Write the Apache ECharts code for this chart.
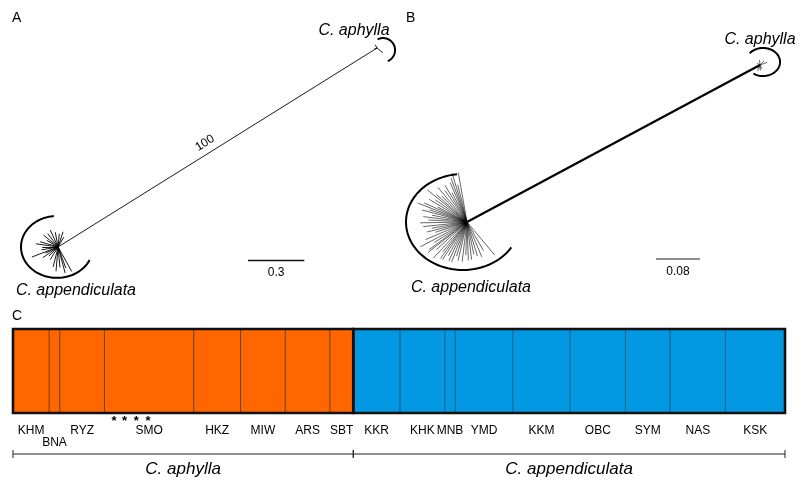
<!DOCTYPE html>
<html>
<head>
<meta charset="utf-8">
<script src="https://cdn.jsdelivr.net/npm/echarts@6/dist/echarts.min.js"></script>
<style>
  html, body { margin: 0; padding: 0; background: #fff; }
  #chart { width: 800px; height: 482px; }
</style>
</head>
<body>
<div id="chart"></div>
<script>
// ---------- Panel A: network, tree units (substitutions/site) ----------
const hubA = [0.31, 0.283];          // C. appendiculata centre
const tipA = [2.011, 1.344];         // C. aphylla centre
// [angle deg, branch length]
const fanA = [
  [60, 0.06], [72, 0.085], [85, 0.07], [101, 0.08], [115, 0.1], [128, 0.09],
  [141, 0.1], [150, 0.07], [164, 0.1], [172, 0.12], [180, 0.085], [190, 0.09],
  [201, 0.15], [206, 0.075], [215, 0.1], [225, 0.07], [238, 0.08], [256, 0.11],
  [265, 0.13], [275, 0.11], [285, 0.144], [290, 0.12], [299, 0.15]
];
const tipsA = [[-40, 0.04], [120, 0.02], [200, 0.015]];
const bootstrapA = '100';
const scaleA = 0.3;

// ---------- Panel B ----------
const hubB = [0.1218, 0.1418];
const tipB = [0.6545, 0.4273];
const fanB = [
  [100, 0.091], [104, 0.07], [107, 0.093], [110, 0.085], [113, 0.078], [117, 0.06],
  [121, 0.078], [125, 0.07], [130, 0.082], [134, 0.065], [138, 0.075], [141, 0.093],
  [145, 0.07], [149, 0.08], [153, 0.06], [156, 0.085], [159, 0.096], [162, 0.072],
  [165, 0.085], [169, 0.065], [173, 0.08], [177, 0.07], [181, 0.085], [186, 0.08],
  [190, 0.065], [194, 0.075], [198, 0.06], [203, 0.082], [208, 0.096], [212, 0.07],
  [216, 0.085], [218, 0.09], [222, 0.075], [227, 0.09], [231, 0.07], [234, 0.082],
  [237, 0.082], [241, 0.07], [245, 0.078], [249, 0.078], [253, 0.065], [257, 0.072],
  [263, 0.073], [268, 0.06], [272, 0.07], [277, 0.069], [282, 0.06], [287, 0.065],
  [293, 0.069], [300, 0.06], [310, 0.078]
];
const tipsB = [[20, 0.014], [45, 0.01], [95, 0.009], [150, 0.006], [230, 0.008], [250, 0.012], [275, 0.01], [300, 0.008]];
const scaleB = 0.08;

// ---------- Panel C: STRUCTURE K=2 ----------
const populations = ['KHM', 'BNA', 'RYZ', 'SMO', 'HKZ', 'MIW', 'ARS', 'SBT',
  'KKR', 'KHK', 'MNB', 'YMD', 'KKM', 'OBC', 'SYM', 'NAS', 'KSK'];
const popSizes = [17, 5, 21, 42, 22, 21, 21, 11, 22, 21, 5, 27, 27, 26, 21, 26, 28];
const popSpecies = [0, 0, 0, 0, 0, 0, 0, 0, 1, 1, 1, 1, 1, 1, 1, 1, 1];
const qCluster1 = [1, 1, 1, 1, 1, 1, 1, 1, 0, 0, 0, 0, 0, 0, 0, 0, 0];
const starred = [47.5, 52.5, 58, 63.5];
const species = ['C. aphylla', 'C. appendiculata'];

// ---------- layout ----------
const PX_A = 187.5, PX_B = 550;
const FONT = 'Liberation Sans, Arial, sans-serif';
const ORANGE = '#ff6600', BLUE = '#0398e2';
const lowerRow = ['BNA'];

const rad = d => d * Math.PI / 180;
const fanEdges = (hub, fan) => fan.map(([a, l]) => ({
  coords: [hub, [hub[0] + l * Math.cos(rad(a)), hub[1] + l * Math.sin(rad(a))]]
}));

const arcsA = [[2.043, 1.333, 0.064, 0.064, 117, -67], [0.304, 0.283, 0.192, 0.165, 95, 335]];
const arcsB = [[0.66, 0.4327, 0.031, 0.0255, 141, -124], [0.1145, 0.1418, 0.1036, 0.0873, 96, 328]];

function renderArc(params, api) {
  const c = api.coord([api.value(0), api.value(1)]);
  const s = api.size([api.value(2), api.value(3)]);
  const a0 = api.value(4), a1 = api.value(5);
  const pts = [];
  for (let i = 0; i <= 60; i++) {
    const a = rad(a0 + (a1 - a0) * i / 60);
    pts.push([c[0] + s[0] * Math.cos(a), c[1] - s[1] * Math.sin(a)]);
  }
  return { type: 'polyline', shape: { points: pts }, style: { stroke: '#000', lineWidth: 2, fill: null } };
}

// population blocks
const starts = [];
popSizes.reduce((acc, n) => { starts.push(acc); return acc + n; }, 0);
const total = popSizes.reduce((a, b) => a + b, 0);
const popData = populations.map((p, i) => [starts[i], starts[i] + popSizes[i], qCluster1[i], i]);
const speciesData = species.map((s, k) => {
  const idx = popSpecies.map((v, i) => v === k ? i : -1).filter(i => i >= 0);
  return [starts[idx[0]], starts[idx[idx.length - 1]] + popSizes[idx[idx.length - 1]], k];
});

const chart = echarts.init(document.getElementById('chart'));

const labelPt = (name, x, y, extra) => ({
  value: [x, y], name,
  label: Object.assign({ show: true, position: 'inside', formatter: name, color: '#000',
    fontFamily: FONT, fontSize: 16, fontStyle: 'italic' }, extra || {})
});

chart.setOption({
  animation: false,
  backgroundColor: '#fff',
  title: [
    { text: 'A', left: 7, top: 6, textStyle: { fontFamily: FONT, fontSize: 14, fontWeight: 'normal', color: '#000' } },
    { text: 'B', left: 401, top: 6, textStyle: { fontFamily: FONT, fontSize: 14, fontWeight: 'normal', color: '#000' } },
    { text: 'C', left: 7, top: 304, textStyle: { fontFamily: FONT, fontSize: 14, fontWeight: 'normal', color: '#000' } }
  ],
  grid: [
    { left: 0, top: 0, width: 400, height: 300 },
    { left: 400, top: 0, width: 400, height: 300 },
    { left: 13, top: 329, width: 772, height: 84 }
  ],
  xAxis: [
    { type: 'value', gridIndex: 0, min: 0, max: 400 / PX_A, show: false },
    { type: 'value', gridIndex: 1, min: 0, max: 400 / PX_B, show: false },
    { type: 'value', gridIndex: 2, min: 0, max: total, show: false }
  ],
  yAxis: [
    { type: 'value', gridIndex: 0, min: 0, max: 300 / PX_A, show: false },
    { type: 'value', gridIndex: 1, min: 0, max: 300 / PX_B, show: false },
    { type: 'value', gridIndex: 2, min: 0, max: 1, show: false }
  ],
  series: [
    // ---- A ----
    { type: 'lines', coordinateSystem: 'cartesian2d', xAxisIndex: 0, yAxisIndex: 0, silent: true,
      lineStyle: { color: '#000', width: 0.9, opacity: 1 },
      data: [{ coords: [hubA, tipA] }].concat(fanEdges(hubA, fanA), fanEdges(tipA, tipsA)) },
    { type: 'lines', coordinateSystem: 'cartesian2d', xAxisIndex: 0, yAxisIndex: 0, silent: true,
      lineStyle: { color: '#111', width: 1.3, opacity: 1 },
      data: [{ coords: [[1.323, 0.213], [1.323 + scaleA, 0.213]] }] },
    { type: 'custom', xAxisIndex: 0, yAxisIndex: 0, renderItem: renderArc, data: arcsA, silent: true },
    { type: 'scatter', xAxisIndex: 0, yAxisIndex: 0, symbolSize: 0, silent: true, itemStyle: { opacity: 1 },
      data: [
        labelPt('C. aphylla', 1.888, 1.435),
        labelPt('C. appendiculata', 0.405, 0.048),
        labelPt(bootstrapA, 1.093, 0.837, { fontStyle: 'normal', fontSize: 12, rotate: 32 }),
        labelPt(String(scaleA), 1.323 + scaleA / 2, 0.213, { fontStyle: 'normal', fontSize: 12, position: 'bottom', distance: 7 })
      ] },
    // ---- B ----
    { type: 'lines', coordinateSystem: 'cartesian2d', xAxisIndex: 1, yAxisIndex: 1, silent: true,
      lineStyle: { color: '#000', width: 0.6, opacity: 1 },
      data: fanEdges(hubB, fanB).concat(fanEdges(tipB, tipsB)) },
    { type: 'lines', coordinateSystem: 'cartesian2d', xAxisIndex: 1, yAxisIndex: 1, silent: true,
      lineStyle: { color: '#000', width: 2.2, opacity: 1 },
      data: [{ coords: [hubB, tipB] }] },
    { type: 'lines', coordinateSystem: 'cartesian2d', xAxisIndex: 1, yAxisIndex: 1, silent: true,
      lineStyle: { color: '#666', width: 1.6, opacity: 1 },
      data: [{ coords: [[0.4655, 0.0745], [0.4655 + scaleB, 0.0745]] }] },
    { type: 'custom', xAxisIndex: 1, yAxisIndex: 1, renderItem: renderArc, data: arcsB, silent: true },
    { type: 'scatter', xAxisIndex: 1, yAxisIndex: 1, symbolSize: 0, silent: true, itemStyle: { opacity: 1 },
      data: [
        labelPt('C. aphylla', 0.6545, 0.4727),
        labelPt('C. appendiculata', 0.129, 0.0218),
        labelPt(String(scaleB), 0.4655 + scaleB / 2, 0.0745, { fontStyle: 'normal', fontSize: 12, position: 'bottom', distance: 7 })
      ] },
    // ---- C: structure bars ----
    { type: 'custom', xAxisIndex: 2, yAxisIndex: 2, silent: true, data: popData,
      renderItem(params, api) {
        const tl = api.coord([api.value(0), 1]);
        const br = api.coord([api.value(1), 0]);
        const yq = api.coord([api.value(0), api.value(2)])[1];
        const i = api.value(3);
        const name = populations[i];
        const children = [
          { type: 'rect', shape: { x: tl[0], y: tl[1], width: br[0] - tl[0], height: br[1] - tl[1] }, style: { fill: BLUE } },
          { type: 'rect', shape: { x: tl[0], y: yq, width: br[0] - tl[0], height: br[1] - yq }, style: { fill: ORANGE } },
          { type: 'text', x: (tl[0] + br[0]) / 2, y: br[1] + (lowerRow.includes(name) ? 30 : 18),
            style: { text: name, fill: '#000', fontFamily: FONT, fontSize: 12, align: 'center', verticalAlign: 'middle' } }
        ];
        if (i > 0) children.push({ type: 'line', shape: { x1: tl[0], y1: tl[1], x2: tl[0], y2: br[1] },
          style: { stroke: 'rgba(0,0,0,0.45)', lineWidth: 1 } });
        return { type: 'group', children };
      } },
    // frame + species bracket
    { type: 'custom', xAxisIndex: 2, yAxisIndex: 2, silent: true, data: speciesData,
      renderItem(params, api) {
        const tl = api.coord([api.value(0), 1]);
        const br = api.coord([api.value(1), 0]);
        const yb = br[1] + 41;
        return { type: 'group', children: [
          { type: 'rect', shape: { x: tl[0], y: tl[1], width: br[0] - tl[0], height: br[1] - tl[1] },
            style: { fill: null, stroke: '#111', lineWidth: 2.6 } },
          { type: 'line', shape: { x1: tl[0], y1: yb, x2: br[0], y2: yb }, style: { stroke: '#222', lineWidth: 1 } },
          { type: 'line', shape: { x1: tl[0], y1: yb - 4, x2: tl[0], y2: yb + 4 }, style: { stroke: '#222', lineWidth: 1 } },
          { type: 'line', shape: { x1: br[0], y1: yb - 4, x2: br[0], y2: yb + 4 }, style: { stroke: '#222', lineWidth: 1 } },
          { type: 'text', x: (tl[0] + br[0]) / 2, y: yb + 15,
            style: { text: species[api.value(2)], fill: '#000', fontFamily: FONT, fontSize: 17, fontStyle: 'italic', align: 'center', verticalAlign: 'middle' } }
        ] };
      } },
    { type: 'scatter', xAxisIndex: 2, yAxisIndex: 2, symbolSize: 0, silent: true, itemStyle: { opacity: 1 },
      data: starred.map(x => [x, 0]),
      label: { show: true, position: 'bottom', distance: 2, formatter: '*', color: '#000', fontFamily: FONT, fontSize: 13, fontWeight: 'bold' } }
  ]
});
</script>
</body>
</html>
